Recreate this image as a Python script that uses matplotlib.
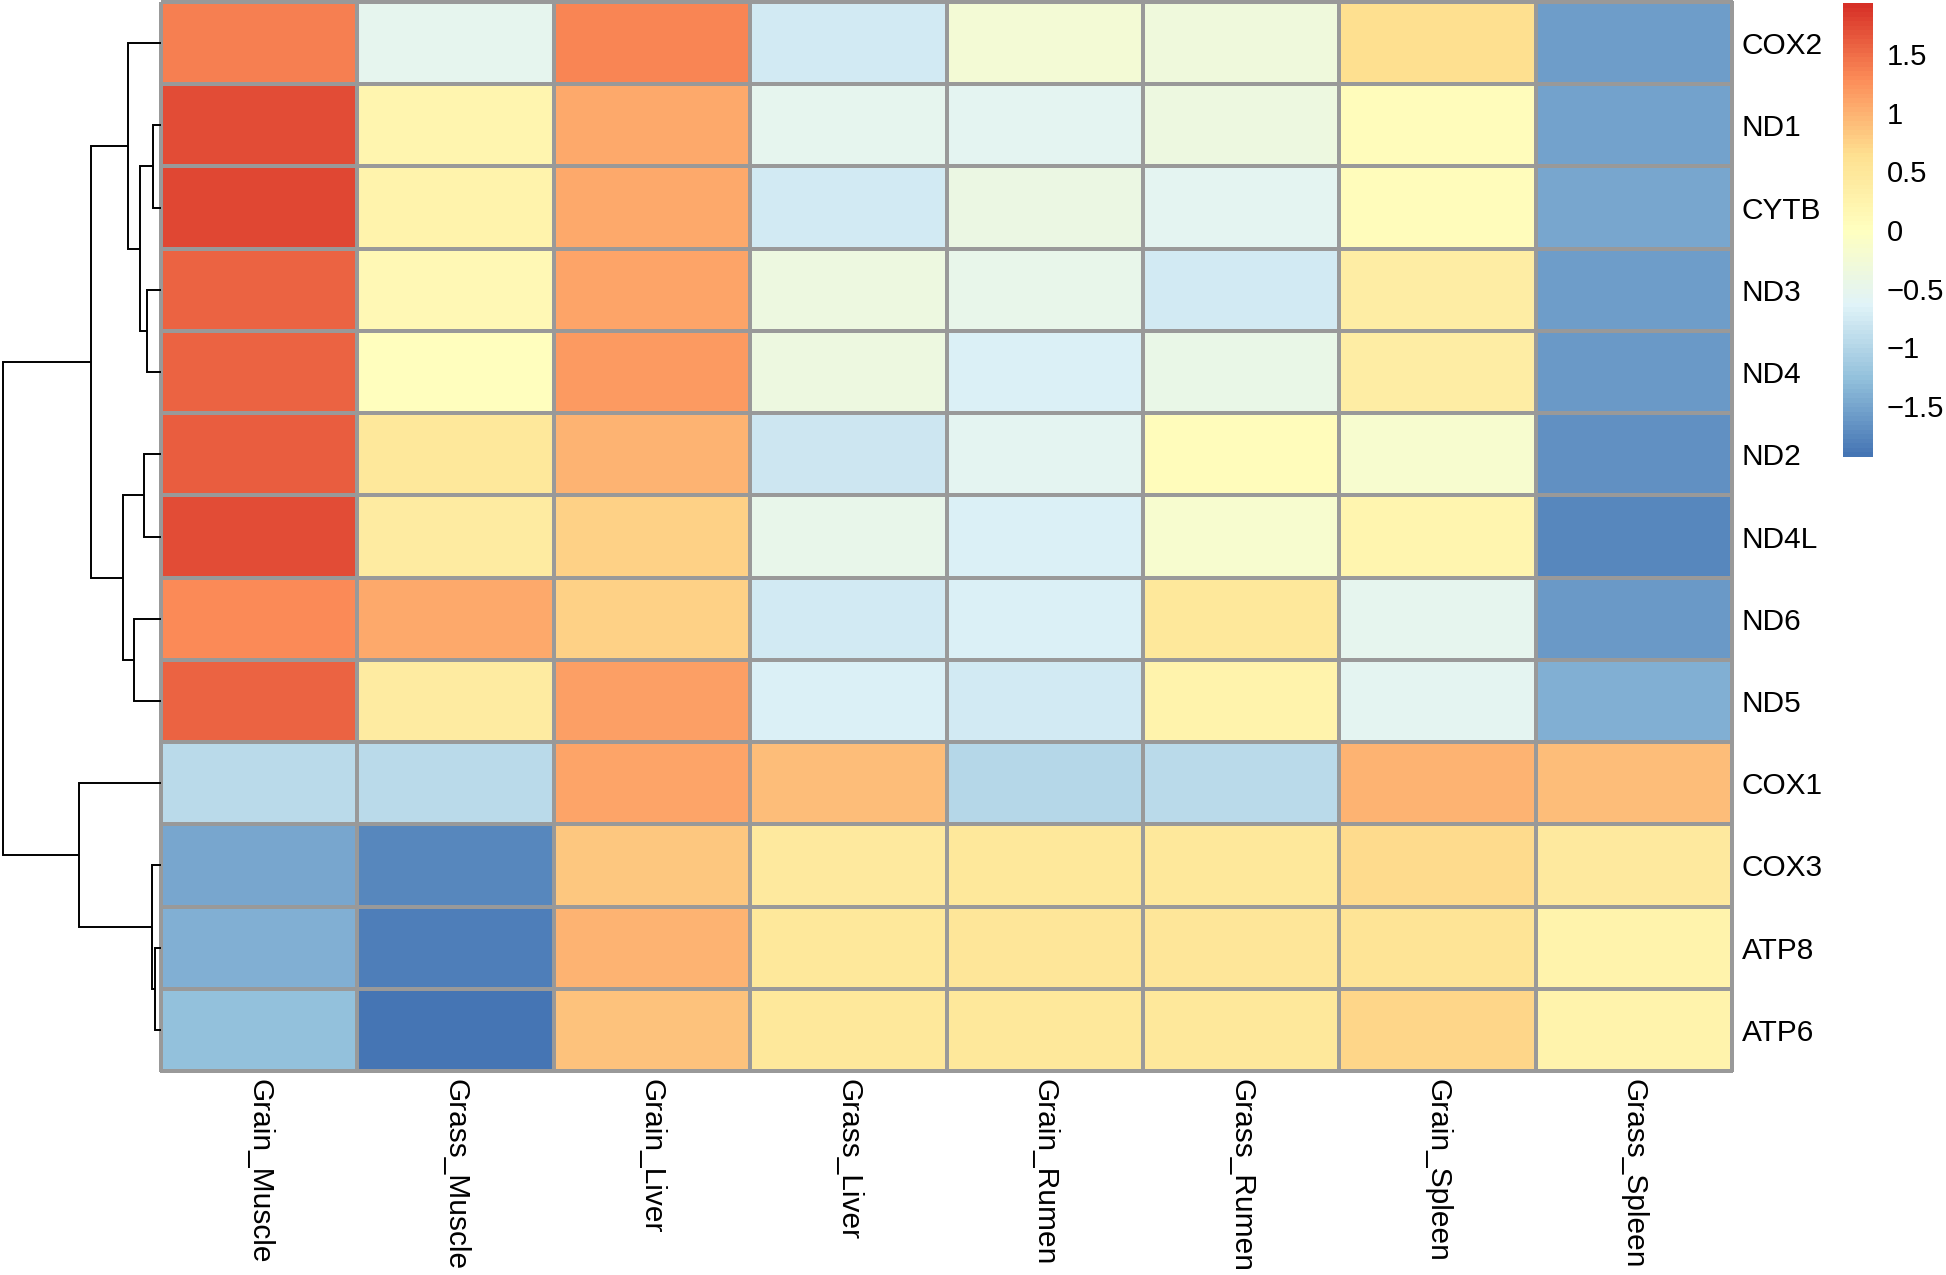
import matplotlib
matplotlib.use("Agg")
import matplotlib.pyplot as plt
from matplotlib.colors import LinearSegmentedColormap
import matplotlib.cm as cm
import numpy as np

genes = ["COX2", "ND1", "CYTB", "ND3", "ND4", "ND2", "ND4L", "ND6", "ND5",
         "COX1", "COX3", "ATP8", "ATP6"]
samples = ["Grain_Muscle", "Grass_Muscle", "Grain_Liver", "Grass_Liver",
           "Grain_Rumen", "Grass_Rumen", "Grain_Spleen", "Grass_Spleen"]

# row-scaled expression (z-scores), rows in dendrogram order
zscore = [
    [1.38, -0.52, 1.33, -0.74, -0.26, -0.33, 0.63, -1.56],   # COX2
    [1.72, 0.21, 1.07, -0.52, -0.58, -0.36, 0.07, -1.55],    # ND1
    [1.77, 0.26, 1.08, -0.74, -0.40, -0.56, 0.07, -1.49],    # CYTB
    [1.59, 0.14, 1.11, -0.36, -0.48, -0.77, 0.36, -1.59],    # ND3
    [1.56, 0.00, 1.19, -0.36, -0.69, -0.44, 0.38, -1.62],    # ND4
    [1.62, 0.50, 0.99, -0.81, -0.58, 0.04, -0.17, -1.67],    # ND2
    [1.72, 0.39, 0.77, -0.48, -0.66, -0.17, 0.20, -1.75],    # ND4L
    [1.30, 1.05, 0.77, -0.74, -0.68, 0.48, -0.52, -1.62],    # ND6
    [1.58, 0.42, 1.16, -0.69, -0.74, 0.27, -0.56, -1.42],    # ND5
    [-0.95, -0.95, 1.11, 0.92, -0.98, -0.95, 1.00, 0.90],    # COX1
    [-1.48, -1.78, 0.82, 0.44, 0.50, 0.50, 0.68, 0.43],      # COX3
    [-1.41, -1.86, 0.97, 0.50, 0.52, 0.52, 0.58, 0.26],      # ATP8
    [-1.25, -1.94, 0.89, 0.48, 0.50, 0.50, 0.70, 0.26],      # ATP6
]

# row dendrogram: (child a, child b, height); leaves 0..12, new nodes 13..
merges = [
    (1, 2, 8), (3, 4, 14), (13, 14, 21), (0, 15, 33),
    (5, 6, 17), (7, 8, 27), (17, 18, 38), (16, 19, 69),
    (11, 12, 6), (10, 21, 9), (9, 22, 81), (20, 23, 157),
]

palette = ["#4575B4", "#91BFDB", "#E0F3F8", "#FFFFBF", "#FEE090", "#FC8D59", "#D73027"]
cmap = LinearSegmentedColormap.from_list("rdylbu", palette, N=100)

plt.rcParams.update({"font.family": ["Liberation Sans", "DejaVu Sans"], "font.size": 21.5})

W, H = 1946, 1275
fig = plt.figure(figsize=(W / 100, H / 100), dpi=100)

def frac(x0, y0, x1, y1):
    return [x0 / W, (H - y1) / H, (x1 - x0) / W, (y1 - y0) / H]

data = np.array(zscore)
lim = np.abs(data).max()

# heatmap
ax = fig.add_axes(frac(161, 2, 1732, 1071))
mesh = ax.pcolormesh(data, cmap=cmap, vmin=-lim, vmax=lim,
                     edgecolors="#999999", linewidth=1.6)
mesh.set_clip_on(False)
ax.set_xlim(0, len(samples))
ax.set_ylim(len(genes), 0)
for s in ax.spines.values():
    s.set_visible(False)
ax.set_xticks(np.arange(len(samples)) + 0.5)
ax.set_xticklabels(samples, rotation=270, ha="center", va="top")
ax.set_yticks(np.arange(len(genes)) + 0.5)
ax.set_yticklabels(genes)
ax.yaxis.tick_right()
ax.tick_params(length=0, pad=7)
ax.tick_params(axis="x", pad=6)

# dendrogram
dax = fig.add_axes(frac(0, 2, 161, 1071))
pos = {i: (0.0, i + 0.5) for i in range(len(genes))}
for k, (a, b, h) in enumerate(merges):
    ha_, ya = pos[a]
    hb, yb = pos[b]
    dax.plot([ha_, h, h, hb], [ya, ya, yb, yb], color="black", lw=1.4,
             solid_joinstyle="miter", solid_capstyle="butt")
    pos[len(genes) + k] = (h, (ya + yb) / 2)
dax.set_xlim(159.7, 0)
dax.set_ylim(len(genes), 0)
dax.axis("off")

# colour key
cax = fig.add_axes(frac(1843, 3, 1873, 457))
sm = cm.ScalarMappable(cmap=cmap, norm=plt.Normalize(-lim, lim))
cb = fig.colorbar(sm, cax=cax, ticks=[-1.5, -1, -0.5, 0, 0.5, 1, 1.5])
cb.ax.set_yticklabels(["\u22121.5", "\u22121", "\u22120.5", "0", "0.5", "1", "1.5"])
cb.outline.set_visible(False)
cb.ax.tick_params(length=0, pad=10, labelsize=21)

fig.savefig("out.png", dpi=100)
